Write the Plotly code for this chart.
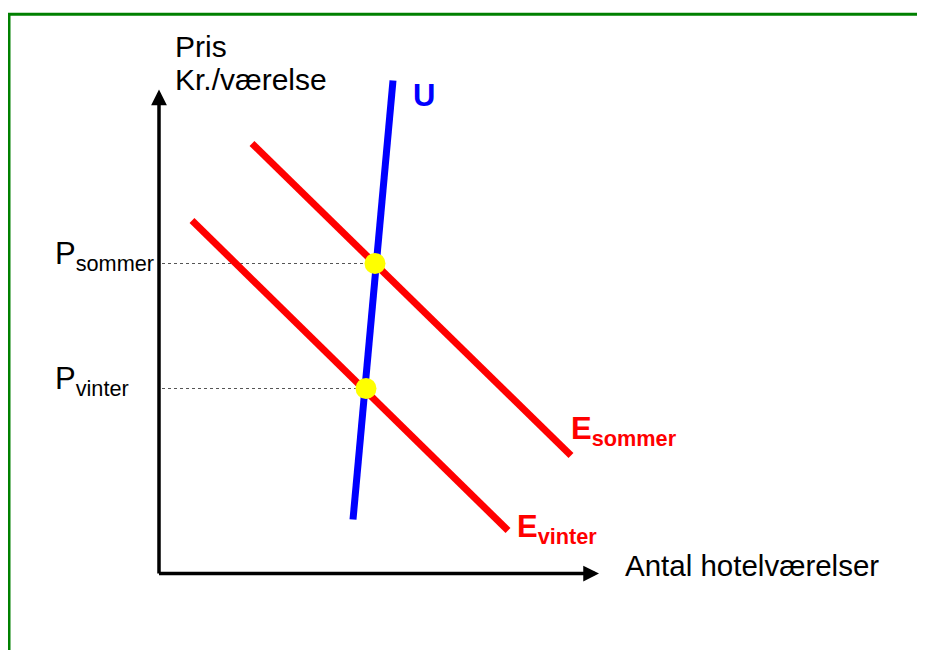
import plotly.graph_objects as go

# ---- data (quantity, price) in chart units; origin = corner of the axes ----
esommer_q = [93, 412]
esommer_p = [430, 118]
evinter_q = [33, 349]
evinter_p = [353, 43]
u_q = [194, 234]
u_p = [54, 493]
eq_q = [216, 207]
eq_p = [310, 185]
eq_labels = ["P<sub>sommer</sub>", "P<sub>vinter</sub>"]
x_axis_len = 440
y_axis_len = 484
x_title = "Antal hotelværelser"
y_title_lines = ["Pris", "Kr./værelse"]

FONT = "Arial, Liberation Sans, sans-serif"
RED = "#FF0000"
BLUE = "#0000FF"
GREEN = "#008000"

# the page body adds an 8px margin, so the figure is sized to fit the window
W, H = 917, 642

fig = go.Figure()

# dotted guide lines to the price axis
for q, p in zip(eq_q, eq_p):
    fig.add_trace(go.Scatter(x=[3, q], y=[p, p], mode="lines",
                             line=dict(color="#555555", width=1, dash="dot"),
                             hoverinfo="skip", showlegend=False))

fig.add_trace(go.Scatter(x=esommer_q, y=esommer_p, mode="lines",
                         line=dict(color=RED, width=7), showlegend=False))
fig.add_trace(go.Scatter(x=evinter_q, y=evinter_p, mode="lines",
                         line=dict(color=RED, width=7), showlegend=False))
fig.add_trace(go.Scatter(x=u_q, y=u_p, mode="lines",
                         line=dict(color=BLUE, width=7), showlegend=False))
fig.add_trace(go.Scatter(x=eq_q, y=eq_p, mode="markers",
                         marker=dict(color="#FFFF00", size=21, line=dict(width=0)),
                         showlegend=False))

annotations = []
# axes with arrowheads
annotations.append(dict(x=x_axis_len, y=0, ax=-1.5, ay=0, xref="x", yref="y",
                        axref="x", ayref="y", text="", showarrow=True,
                        arrowhead=2, arrowsize=0.9, arrowwidth=3.5, arrowcolor="black",
                        startstandoff=0, standoff=0))
annotations.append(dict(x=0, y=y_axis_len, ax=0, ay=-1.5, xref="x", yref="y",
                        axref="x", ayref="y", text="", showarrow=True,
                        arrowhead=2, arrowsize=0.9, arrowwidth=3.5, arrowcolor="black",
                        startstandoff=0, standoff=0))

# axis titles
annotations.append(dict(x=14, y=546, xref="x", yref="y", text=y_title_lines[0],
                        showarrow=False, xanchor="left", yanchor="top",
                        font=dict(family=FONT, size=30, color="black")))
annotations.append(dict(x=14, y=513, xref="x", yref="y", text=y_title_lines[1],
                        showarrow=False, xanchor="left", yanchor="top",
                        font=dict(family=FONT, size=30, color="black")))
annotations.append(dict(x=464, y=27, xref="x", yref="y", text=x_title,
                        showarrow=False, xanchor="left", yanchor="top",
                        font=dict(family=FONT, size=29.5, color="black")))

# price labels
for lab, p in zip(eq_labels, eq_p):
    annotations.append(dict(x=-106, y=p, xref="x", yref="y", text=lab,
                            showarrow=False, xanchor="left", yanchor="middle",
                            yshift=8,
                            font=dict(family=FONT, size=31, color="black")))

# curve labels
annotations.append(dict(x=252, y=497.5, xref="x", yref="y", text="<b>U</b>",
                        showarrow=False, xanchor="left", yanchor="top",
                        font=dict(family=FONT, size=31, color=BLUE)))
annotations.append(dict(x=410, y=165, xref="x", yref="y", text="<b>E<sub>sommer</sub></b>",
                        showarrow=False, xanchor="left", yanchor="top",
                        font=dict(family=FONT, size=31, color=RED)))
annotations.append(dict(x=356, y=67, xref="x", yref="y", text="<b>E<sub>vinter</sub></b>",
                        showarrow=False, xanchor="left", yanchor="top",
                        font=dict(family=FONT, size=31, color=RED)))

# green frame (left and top edges visible; the rest runs off the page)
shapes = [dict(type="rect", xref="paper", yref="paper",
               x0=1.0 / W, x1=1.2, y0=-0.2, y1=1 - 6.3 / H,
               line=dict(color=GREEN, width=3), fillcolor="rgba(0,0,0,0)")]

fig.update_layout(
    width=W, height=H,
    margin=dict(l=0, r=0, t=0, b=0),
    paper_bgcolor="white", plot_bgcolor="white",
    xaxis=dict(range=[-151, W - 151], visible=False, fixedrange=True),
    yaxis=dict(range=[565.5 - H, 565.5], visible=False, fixedrange=True),
    annotations=annotations, shapes=shapes,
    showlegend=False,
)

fig.write_html("out.html")
